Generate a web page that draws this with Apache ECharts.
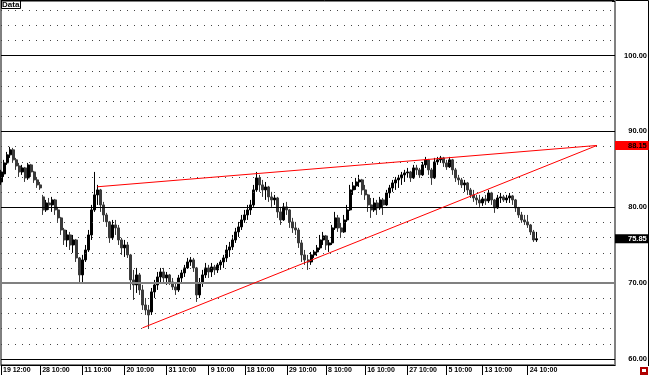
<!DOCTYPE html>
<html>
<head>
<meta charset="utf-8">
<script src="https://cdn.jsdelivr.net/npm/echarts@6/dist/echarts.min.js"></script>
<style>
  html, body { margin: 0; padding: 0; background: #fff; }
  #chart { width: 650px; height: 376px; }
</style>
</head>
<body>
<div id="chart"></div>
<script>
// time labels under the chart and the bar index they sit on
var tickLabels = ["19 12:00", "28 10:00", "11 10:00", "20 10:00", "31 10:00", "9 10:00", "18 10:00",
  "29 10:00", "8 10:00", "16 10:00", "27 10:00", "5 10:00", "13 10:00", "24 10:00"];
var tickIndex = [0, 13, 27, 41, 55, 69, 81, 95, 108, 121, 135, 148, 160, 175];
var slotCount = 205; // bars + empty shift area on the right

// [open, close, low, high]
var bars = [
  [83.34, 84.66, 82.95, 84.93], [84.40, 85.85, 84.00, 86.25], [85.85, 86.91, 85.59, 87.30], [86.91, 87.57, 86.51, 87.96],
  [87.57, 86.25, 85.85, 87.83], [86.25, 85.45, 84.93, 86.51], [85.45, 84.66, 84.00, 85.85], [84.66, 85.19, 84.27, 85.59],
  [85.19, 83.87, 83.34, 85.32], [83.87, 85.59, 83.61, 85.85], [85.59, 84.66, 84.00, 85.72], [84.66, 83.61, 83.21, 84.80],
  [83.61, 82.95, 82.55, 84.00], [82.95, 82.55, 82.29, 83.34], [81.37, 79.65, 78.99, 81.63], [79.65, 80.57, 79.39, 80.97],
  [80.57, 80.31, 79.65, 81.23], [80.31, 80.97, 79.39, 81.37], [80.97, 79.65, 78.99, 81.10], [79.65, 78.60, 78.07, 80.05],
  [78.60, 77.01, 76.35, 78.73], [77.01, 75.69, 75.03, 77.28], [75.69, 76.35, 74.77, 77.01], [76.35, 75.03, 74.37, 76.75],
  [75.03, 75.69, 73.98, 76.35], [75.69, 73.32, 72.79, 75.82], [73.32, 71.08, 70.02, 73.45], [71.08, 73.06, 70.02, 73.72],
  [73.06, 74.37, 72.79, 75.03], [74.37, 76.35, 74.11, 77.01], [76.35, 79.65, 75.69, 80.31], [79.65, 81.63, 79.39, 84.66],
  [81.63, 82.29, 80.31, 82.95], [82.29, 80.31, 79.39, 82.42], [80.31, 78.99, 78.07, 80.71], [78.99, 78.07, 77.41, 79.26],
  [78.07, 75.96, 75.30, 78.20], [75.96, 77.67, 75.69, 78.33], [77.67, 77.28, 76.35, 78.33], [77.28, 75.69, 75.03, 77.67],
  [75.69, 74.64, 73.72, 75.96], [74.64, 75.03, 73.45, 75.69], [75.03, 73.72, 73.32, 75.43], [73.72, 70.42, 69.10, 73.85],
  [70.42, 69.76, 67.78, 71.74], [69.76, 71.08, 68.70, 72.00], [71.08, 69.10, 68.44, 71.34], [69.10, 67.12, 66.46, 69.76],
  [67.12, 66.46, 65.80, 68.04], [66.46, 65.80, 64.09, 67.12], [66.20, 68.84, 65.80, 69.36], [68.84, 69.76, 68.04, 70.42],
  [69.76, 70.81, 69.10, 71.47], [70.81, 71.47, 70.02, 72.00], [71.47, 70.68, 70.15, 72.00], [70.68, 71.08, 69.76, 71.47],
  [71.08, 70.15, 69.76, 71.21], [70.15, 69.50, 69.10, 70.68], [69.50, 69.10, 68.44, 70.15], [69.10, 70.68, 68.84, 71.08],
  [70.68, 71.34, 70.02, 71.74], [71.34, 72.00, 70.81, 72.40], [72.00, 72.79, 71.87, 73.32], [72.79, 73.06, 72.27, 73.45],
  [73.06, 72.00, 71.47, 73.32], [72.00, 68.44, 67.52, 72.13], [68.44, 70.02, 68.04, 70.68], [70.02, 71.08, 69.50, 71.74],
  [71.08, 72.00, 70.68, 72.66], [72.00, 71.47, 70.68, 72.40], [71.47, 72.13, 70.81, 72.66], [72.13, 71.74, 71.08, 72.40],
  [71.74, 72.40, 71.34, 72.66], [72.40, 72.79, 71.74, 73.06], [72.79, 73.32, 72.00, 73.72], [73.32, 74.37, 72.79, 75.03],
  [74.37, 74.77, 73.45, 75.43], [74.77, 75.69, 74.37, 76.35], [75.69, 76.75, 75.30, 77.28], [76.75, 77.41, 76.09, 78.07],
  [77.41, 78.33, 77.01, 78.99], [78.33, 78.99, 77.94, 79.65], [78.99, 79.65, 78.33, 80.31], [79.65, 80.31, 78.99, 80.97],
  [80.31, 82.29, 80.05, 82.95], [82.29, 83.87, 82.03, 84.66], [83.87, 82.95, 82.03, 84.27], [82.95, 82.29, 81.37, 83.61],
  [82.29, 82.68, 80.97, 83.34], [82.68, 81.37, 80.71, 82.82], [81.37, 80.97, 80.05, 82.03], [80.97, 81.23, 80.31, 81.63],
  [81.23, 79.39, 78.60, 81.37], [79.39, 78.33, 77.67, 80.05], [78.33, 80.05, 78.20, 80.57], [80.05, 79.65, 78.99, 80.71],
  [79.65, 78.07, 77.28, 79.78], [78.07, 77.28, 76.62, 78.60], [77.28, 77.01, 76.35, 78.07], [77.01, 75.30, 74.64, 77.28],
  [75.30, 73.72, 72.79, 75.69], [73.72, 73.06, 72.40, 74.37], [73.06, 72.79, 71.74, 73.72], [72.79, 73.72, 72.40, 74.11],
  [73.72, 74.11, 73.32, 74.37], [74.11, 74.64, 73.58, 75.03], [74.64, 75.69, 74.37, 76.35], [75.69, 76.22, 75.03, 76.75],
  [76.22, 75.03, 74.37, 76.35], [75.03, 75.30, 74.11, 75.69], [75.30, 77.28, 75.03, 77.67], [77.28, 78.60, 77.01, 79.39],
  [78.60, 77.28, 76.75, 78.99], [77.28, 76.75, 75.96, 77.94], [76.75, 78.33, 76.62, 78.99], [78.33, 79.65, 78.07, 80.31],
  [79.65, 82.29, 79.52, 82.95], [82.29, 82.82, 81.63, 83.34], [82.82, 83.34, 82.29, 83.87], [83.34, 83.61, 82.68, 84.27],
  [83.61, 82.29, 81.63, 83.74], [82.29, 81.63, 80.97, 82.95], [81.63, 80.31, 79.39, 81.76], [80.31, 79.65, 78.60, 81.23],
  [79.65, 80.57, 79.39, 81.23], [80.57, 79.92, 78.99, 80.97], [79.92, 80.97, 79.65, 81.37], [80.97, 80.31, 78.99, 81.23],
  [80.31, 81.89, 80.18, 82.29], [81.89, 82.55, 81.23, 82.95], [82.55, 83.21, 82.03, 83.61], [83.21, 83.61, 82.29, 84.00],
  [83.61, 83.87, 82.55, 84.27], [83.87, 84.27, 82.95, 84.66], [84.27, 84.53, 83.34, 84.93], [84.53, 84.66, 83.87, 85.19],
  [84.66, 83.87, 83.34, 84.80], [83.87, 85.19, 83.74, 85.59], [85.19, 84.93, 84.27, 85.59], [84.93, 84.27, 83.87, 85.19],
  [84.27, 85.59, 84.14, 85.98], [85.59, 86.25, 85.19, 86.64], [86.25, 84.93, 84.27, 86.38], [84.93, 83.87, 82.95, 85.19],
  [83.87, 85.98, 83.74, 86.51], [85.98, 86.25, 85.59, 86.64], [86.25, 86.51, 85.85, 86.77], [86.51, 85.85, 85.32, 86.64],
  [85.85, 85.32, 84.93, 86.25], [85.32, 86.25, 85.19, 86.64], [86.25, 84.93, 84.27, 86.38], [84.93, 83.87, 83.34, 85.19],
  [83.87, 83.61, 82.95, 84.27], [83.61, 82.95, 82.55, 83.87], [82.95, 83.21, 82.03, 83.61], [83.21, 82.29, 81.63, 83.34],
  [82.29, 81.63, 81.23, 82.55], [81.63, 81.23, 80.71, 82.29], [81.23, 80.97, 80.31, 81.63], [80.97, 80.57, 80.05, 81.63],
  [80.57, 81.10, 80.18, 81.37], [81.10, 80.84, 80.31, 81.63], [80.84, 81.89, 80.57, 82.29], [81.89, 80.97, 80.31, 82.03],
  [80.97, 79.92, 79.26, 81.10], [79.92, 81.23, 79.78, 81.63], [81.23, 81.37, 80.57, 81.89], [81.37, 80.97, 80.71, 81.63],
  [80.97, 81.23, 80.57, 81.63], [81.23, 81.50, 80.57, 81.89], [81.50, 80.97, 80.31, 81.63], [80.97, 79.92, 79.39, 81.10],
  [79.92, 78.99, 78.60, 80.05], [78.99, 78.33, 77.94, 79.39], [78.33, 78.07, 77.67, 78.99], [78.07, 77.67, 77.28, 78.99],
  [77.67, 76.75, 76.35, 77.80], [76.75, 75.69, 75.43, 77.01], [75.69, 75.85, 75.43, 76.75]
];

// price grid
var majorLevels = [60, 70, 80, 90, 100];
var minorLevels = [62, 64, 66, 68, 72, 74, 76, 78, 82, 84, 86, 88, 92, 94, 96, 98, 102, 104, 106];

// trendlines: [startIndex, startPrice, endIndex, endPrice]
var upperTrend = [32, 82.7, 198, 88.15];
var lowerTrend = [47, 64.09, 198, 88.15];

var alertPrice = 88.15;
var lastPrice = 75.85;

var categories = [];
for (var i = 0; i < slotCount; i++) {
  var k = tickIndex.indexOf(i);
  categories.push(k >= 0 ? tickLabels[k] : "#" + i);
}
function isTick(idx) { return tickIndex.indexOf(idx) >= 0; }

var FONT = "Liberation Sans";

var lines = [];
minorLevels.forEach(function (v) {
  lines.push({ yAxis: v, lineStyle: { type: [1, 6], color: "#444", width: 1 } });
});
majorLevels.forEach(function (v) {
  lines.push({ yAxis: v, lineStyle: { type: "solid", color: v === 70 ? "#808080" : "#000", width: v === 70 ? 2 : 1 } });
});
[upperTrend, lowerTrend].forEach(function (t) {
  lines.push([
    { coord: [t[0], t[1]], lineStyle: { color: "#ff0000", width: 1, type: "solid" } },
    { coord: [t[2], t[3]] }
  ]);
});
function priceTag(v, bg, fg) {
  return {
    yAxis: v,
    lineStyle: { color: "rgba(0,0,0,0)", width: 1 },
    label: {
      show: true, position: "end", distance: 0,
      formatter: v.toFixed(2),
      backgroundColor: bg, color: fg,
      padding: [1, 2, 0, 13],
      fontSize: 7.5, fontFamily: FONT, fontWeight: "bold"
    }
  };
}
lines.push(priceTag(alertPrice, "#ff0000", "#000"));
lines.push(priceTag(lastPrice, "#000", "#fff"));

var chart = echarts.init(document.getElementById("chart"));
chart.setOption({
  animation: false,
  backgroundColor: "#fff",
  title: {
    text: "Data", left: 1, top: 0,
    padding: [1, 1, 0, 1],
    borderColor: "#000", borderWidth: 1,
    textStyle: { fontSize: 8, fontWeight: "bold", fontFamily: FONT, color: "#000" }
  },
  grid: { left: 1, right: 35, top: 1, bottom: 11, show: true, borderColor: "#000", borderWidth: 1 },
  xAxis: {
    type: "category",
    data: categories,
    boundaryGap: false,
    axisLine: { lineStyle: { color: "#000", width: 1 } },
    axisTick: { show: true, interval: isTick, length: 10, lineStyle: { color: "#000" } },
    axisLabel: {
      interval: isTick, align: "left", margin: 2, padding: [0, 0, 0, 2],
      fontSize: 7, fontFamily: FONT, fontWeight: "bold", color: "#000"
    },
    splitLine: { show: false }
  },
  yAxis: {
    type: "value",
    position: "right",
    min: 59.2,
    max: 107.2,
    splitNumber: 5,
    scale: true,
    splitLine: { show: false },
    axisLine: { show: true, lineStyle: { color: "#808080", width: 2 } },
    axisTick: { show: true, inside: true, length: 3, lineStyle: { color: "#000" } },
    axisLabel: {
      margin: 32, align: "right",
      fontSize: 7.5, fontFamily: FONT, fontWeight: "bold", color: "#000",
      formatter: function (v) { return v % 10 === 0 ? v.toFixed(2) : ""; }
    }
  },
  series: [{
    type: "candlestick",
    data: bars,
    barWidth: 2.5,
    clip: false,
    itemStyle: {
      color: "#000", color0: "#3a3a3a",
      borderColor: "#000", borderColor0: "#3a3a3a",
      borderWidth: 1
    },
    markLine: {
      silent: true,
      symbol: ["none", "none"],
      label: { show: false },
      data: lines
    }
  }],
  graphic: [
    { type: "polyline", shape: { points: [[0.5, 0.5], [648.5, 0.5], [648.5, 366]] }, style: { stroke: "#000", fill: null, lineWidth: 1 } },
    { type: "rect", shape: { x: 640, y: 367, width: 8, height: 8 }, style: { fill: "#b00000" } },
    { type: "rect", shape: { x: 642, y: 369, width: 4, height: 3 }, style: { fill: "#fff" } }
  ]
});
</script>
</body>
</html>
